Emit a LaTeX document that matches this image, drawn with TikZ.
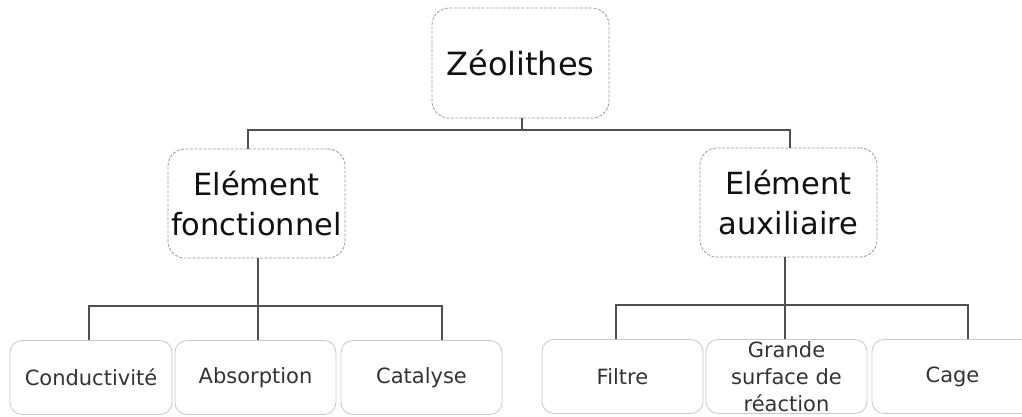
\documentclass[tikz,border=0pt]{standalone}
\usepackage{fontspec}
\setmainfont{DejaVu Sans}
\usetikzlibrary{positioning}
\definecolor{Ink}{HTML}{111111}
\definecolor{Soft}{HTML}{333333}
\definecolor{Wire}{HTML}{505050}
\definecolor{Dash}{HTML}{9A9A9A}
\definecolor{Rim}{HTML}{C8C8C8}

\tikzset{
  headbox/.style={draw=Dash,dash pattern=on 3pt off 1.5pt,line width=0.8pt,
    rounded corners=17pt,align=center,text=Ink,inner sep=0pt},
  leafbox/.style={draw=Rim,line width=0.8pt,rounded corners=12pt,align=center,
    text=Soft,inner sep=0pt,minimum width=161pt,minimum height=74pt,
    font=\fontsize{21}{27}\selectfont},
  link/.style={draw=Wire,line width=2pt}
}

\begin{document}
\begin{tikzpicture}[x=1pt,y=-1pt]
  \useasboundingbox (0,0) rectangle (1022,416);
  % root and middle level
  \node[headbox,minimum width=177pt,minimum height=110pt,
    font=\fontsize{32}{38}\selectfont] (zeo) at (520.5,63) {Zéolithes};
  \node[headbox,minimum width=177pt,minimum height=109pt,
    font=\fontsize{30.5}{40}\selectfont] (fonc) at (256.5,203.5) {Elément\\fonctionnel};
  \node[headbox,minimum width=177pt,minimum height=109pt,
    font=\fontsize{30.5}{40}\selectfont] (aux) at (788.5,202.5) {Elément\\auxiliaire};
  % leaves
  \node[leafbox,minimum width=162pt] (cond) at (91,377.5) {Conductivité};
  \node[leafbox] (abso) at (255.5,377.5) {Absorption};
  \node[leafbox] (cata) at (421.5,377.5) {Catalyse};
  \node[leafbox] (filt) at (622.5,376.5) {Filtre};
  \node[leafbox] (gran) at (786.5,376.5) {Grande\\surface de\\réaction};
  \node[leafbox] (cage) at (952.5,376.5) {Cage};
  % buses
  \coordinate (busZ) at (522,130);
  \coordinate (busF) at (258,306);
  \coordinate (busA) at (785,305);
  \draw[link] (zeo.south -| busZ) -- (busZ);
  \draw[link] ([xshift=-8.5]fonc.north) |- (busZ) -| ([xshift=1.5]aux.north);
  \draw[link] (busF |- fonc.south) -- (busF |- abso.north);
  \draw[link] ([xshift=-2]cond.north) |- (busF) -| ([xshift=20.5]cata.north);
  \draw[link] (busA |- aux.south) -- (busA |- gran.north);
  \draw[link] ([xshift=-6.5]filt.north) |- (busA) -| ([xshift=15.5]cage.north);
\end{tikzpicture}
\end{document}
